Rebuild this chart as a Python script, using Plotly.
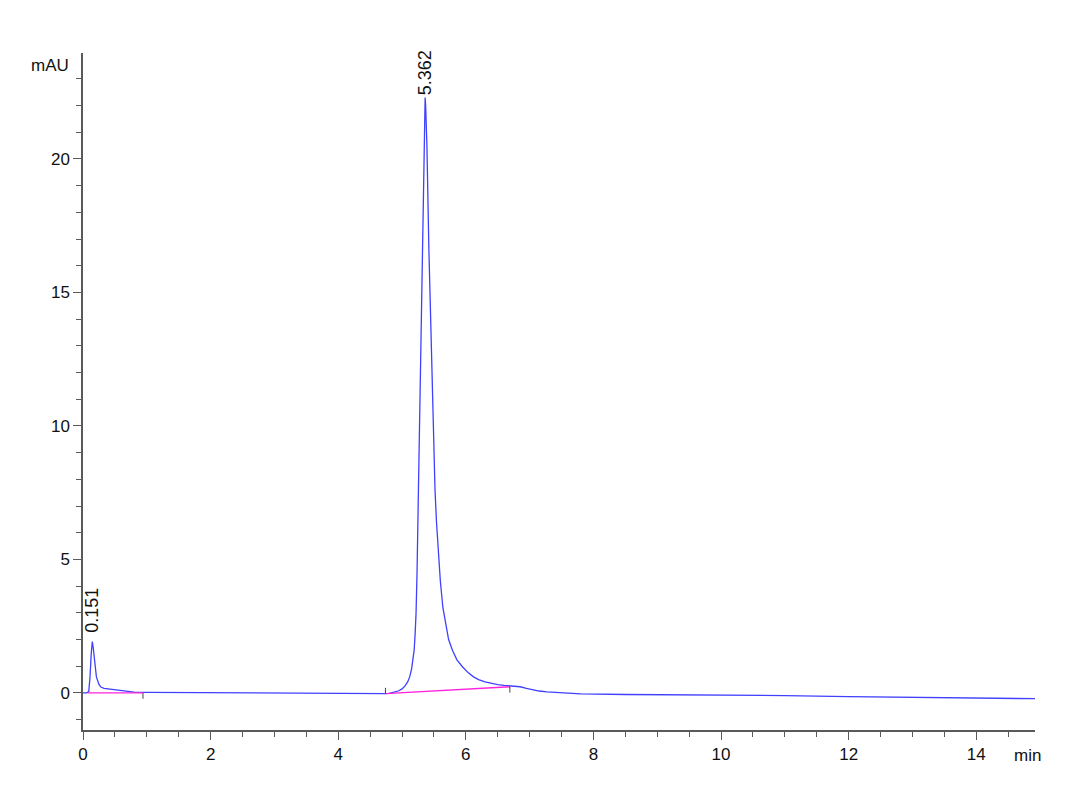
import plotly.graph_objects as go

# chromatogram (min, mAU)
temps = [0.00, 0.06, 0.09, 0.11, 0.13, 0.146, 0.16, 0.18, 0.21, 0.25, 0.28, 0.33, 0.40, 0.47,
         0.55, 0.65, 0.80, 1.00, 1.50, 2.00, 2.50, 3.00, 3.50, 4.00, 4.50, 4.73, 4.80, 4.88,
         4.95, 5.00, 5.05, 5.09, 5.12, 5.15, 5.17, 5.19, 5.205, 5.22, 5.235, 5.25, 5.265,
         5.282, 5.30, 5.32, 5.34, 5.355, 5.362, 5.37, 5.39, 5.42, 5.45, 5.475, 5.50, 5.517,
         5.54, 5.57, 5.60, 5.64, 5.68, 5.73, 5.79, 5.86, 5.95, 6.04, 6.12, 6.20, 6.30, 6.40,
         6.50, 6.60, 6.69, 6.78, 6.85, 6.95, 7.05, 7.15, 7.27, 7.50, 7.80, 8.50, 9.00, 10.0,
         10.5, 11.0, 12.0, 13.0, 14.0, 14.5, 14.6, 15.0]
signal = [0.00, 0.00, 0.05, 0.60, 1.50, 1.92, 1.70, 1.15, 0.60, 0.32, 0.22, 0.17, 0.15, 0.11,
          0.08, 0.05, 0.03, 0.02, 0.01, 0.00, -0.01, -0.02, -0.03, -0.04, -0.04, -0.03, -0.02, 0.02,
          0.08, 0.15, 0.27, 0.42, 0.60, 0.90, 1.20, 1.60, 2.20, 3.00, 4.50, 6.50, 8.80,
          11.35, 14.00, 16.70, 19.80, 21.80, 22.30, 22.00, 20.50, 16.70, 13.50, 11.35, 9.00, 7.60,
          6.40, 5.10, 4.20, 3.20, 2.60, 2.00, 1.60, 1.24, 0.97, 0.75, 0.60, 0.50, 0.41, 0.35,
          0.31, 0.28, 0.26, 0.25, 0.23, 0.17, 0.11, 0.07, 0.04, 0.00, -0.04, -0.06, -0.07, -0.08,
          -0.08, -0.10, -0.14, -0.17, -0.19, -0.20, -0.22, -0.22]

# integration baselines
base_t = [[0.08, 0.94], [4.74, 6.69]]
base_v = [[0.00, 0.00], [-0.03, 0.23]]

# integration event marks (time, level, direction)
evt_t = [0.94, 4.74, 6.69]
evt_v = [0.00, -0.03, 0.23]
evt_dir = [-1, 1, -1]

# peak labels
pk_t = [0.151, 5.362]
pk_v = [1.92, 22.3]
pk_lbl = ["0.151", "5.362"]
pk_gap = [7, 0]

font_fam = "Liberation Sans Narrow, Liberation Sans, Arial, sans-serif"
axe_col = "#5a5a5a"

fig = go.Figure()
fig.add_trace(go.Scatter(x=temps, y=signal, mode="lines",
                         line=dict(color="#4040ff", width=1.3), showlegend=False))
for bt, bv in zip(base_t, base_v):
    fig.add_trace(go.Scatter(x=bt, y=bv, mode="lines",
                             line=dict(color="#ff22dd", width=1.3), showlegend=False))

for t, v, d in zip(evt_t, evt_v, evt_dir):
    fig.add_shape(type="line", x0=t, x1=t, y0=v, y1=v + d * 0.22,
                  line=dict(color="#444", width=1))

for t, v, s, g in zip(pk_t, pk_v, pk_lbl, pk_gap):
    fig.add_annotation(x=t, y=v, text=s, textangle=-90, showarrow=False,
                       yanchor="bottom", xanchor="center", yshift=g,
                       font=dict(family="Liberation Sans, Arial", size=18, color="#111"))

fig.add_annotation(xref="paper", x=0, xanchor="right", xshift=-12,
                   yref="y", y=23.5, yanchor="middle", text="mAU", showarrow=False,
                   font=dict(family=font_fam, size=17, color="#111"))
fig.add_annotation(xref="x", x=14.81, yref="paper", y=0, yanchor="top", yshift=-14,
                   text="min", showarrow=False,
                   font=dict(family=font_fam, size=17, color="#111"))

# page has an 8px body margin, margins compensate for it
fig.update_layout(
    width=1080, height=792,
    margin=dict(l=75, r=53, t=45, b=70),
    paper_bgcolor="white", plot_bgcolor="white",
    font=dict(family=font_fam, size=17, color="#111"),
    xaxis=dict(range=[0, 14.92], tickvals=[0, 2, 4, 6, 8, 10, 12, 14],
               showgrid=False, zeroline=False, showline=True, linecolor=axe_col,
               linewidth=1.5, ticks="outside", ticklen=8, tickcolor=axe_col, tickwidth=1.2,
               minor=dict(dtick=0.5, ticks="outside", ticklen=5, tickcolor=axe_col,
                          showgrid=False)),
    yaxis=dict(range=[-1.39, 23.97], tickvals=[0, 5, 10, 15, 20],
               showgrid=False, zeroline=False, showline=True, linecolor=axe_col,
               linewidth=1.5, ticks="outside", ticklen=8, tickcolor=axe_col, tickwidth=1.2,
               minor=dict(dtick=1, ticks="outside", ticklen=5, tickcolor=axe_col,
                          showgrid=False)),
)

fig.write_html("out.html")
